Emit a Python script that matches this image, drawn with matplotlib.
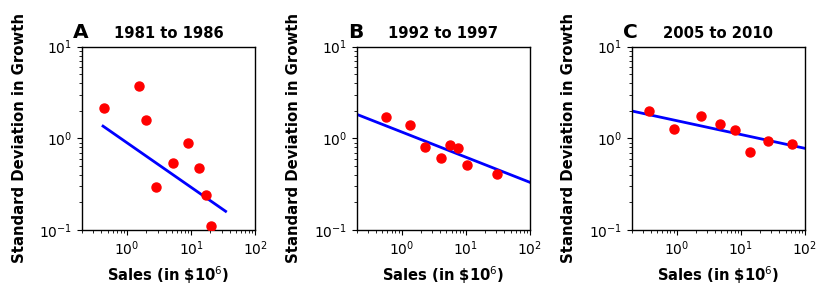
import matplotlib
matplotlib.use("Agg")
import matplotlib.pyplot as plt

titles = ["1981 to 1986", "1992 to 1997", "2005 to 2010"]
letters = ["A", "B", "C"]

sales_a = [0.434, 1.56, 1.99, 2.87, 5.28, 8.83, 13.4, 17.1, 20.7]
sd_a = [2.16, 3.76, 1.57, 0.294, 0.533, 0.90, 0.477, 0.242, 0.111]
fit_x_a = [0.425, 34.5]
fit_y_a = [1.36, 0.160]

sales_b = [0.566, 1.35, 2.34, 4.11, 5.62, 7.57, 10.6, 30.3]
sd_b = [1.69, 1.40, 0.81, 0.615, 0.853, 0.79, 0.515, 0.408]
fit_x_b = [0.2, 100]
fit_y_b = [1.83, 0.331]

sales_c = [0.372, 0.92, 2.43, 4.74, 8.22, 14.1, 26.9, 63.6]
sd_c = [1.99, 1.26, 1.75, 1.43, 1.24, 0.71, 0.927, 0.86]
fit_x_c = [0.2, 100]
fit_y_c = [1.99, 0.778]

panels = [
    (sales_a, sd_a, fit_x_a, fit_y_a),
    (sales_b, sd_b, fit_x_b, fit_y_b),
    (sales_c, sd_c, fit_x_c, fit_y_c),
]

fig = plt.figure(figsize=(8.31, 2.96), dpi=100)
lefts = [82 / 831, 356.7 / 831, 631.7 / 831]
for i, (sx, sy, fx, fy) in enumerate(panels):
    ax = fig.add_axes([lefts[i], 66 / 296, 173.3 / 831, 183.3 / 296])
    ax.plot(sx, sy, "o", color="red", markersize=6.5, zorder=3)
    ax.plot(fx, fy, "-", color="blue", linewidth=2, zorder=2)
    ax.set_xscale("log")
    ax.set_yscale("log")
    ax.set_xlim(0.2, 100)
    ax.set_ylim(0.1, 10)
    ax.set_title(titles[i], fontsize=10.6, fontweight="bold", pad=6)
    ax.text(-0.05, 1.047, letters[i], transform=ax.transAxes, fontsize=14.5,
            fontweight="bold", ha="left", va="baseline")
    ax.set_xlabel("Sales (in \\$10$^6$)", fontsize=10.6, fontweight="bold")
    ax.set_ylabel("Standard Deviation in Growth", fontsize=10.7,
                  fontweight="bold", labelpad=9)
    ax.tick_params(labelsize=10)
    for s in ax.spines.values():
        s.set_linewidth(1.0)

fig.savefig("out.png", dpi=100)
